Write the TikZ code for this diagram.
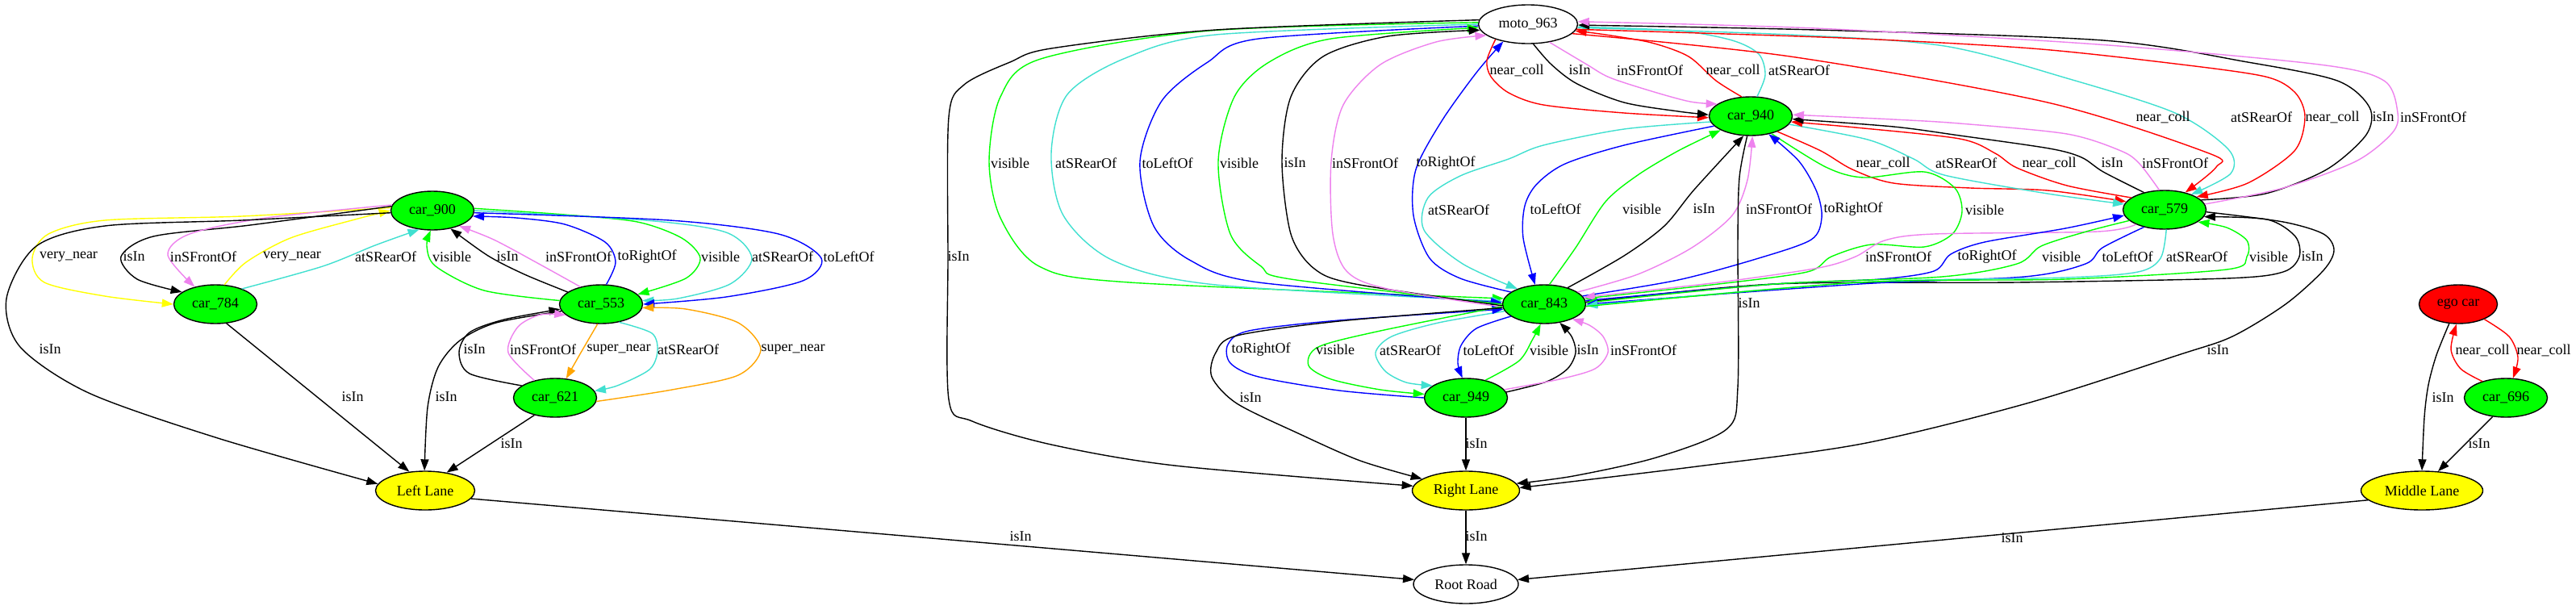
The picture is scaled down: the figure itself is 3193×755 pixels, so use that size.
\documentclass[tikz,border=0pt]{standalone}
\usepackage{fontspec}
\setmainfont{Liberation Serif}
\usetikzlibrary{shapes.geometric,arrows.meta}
\definecolor{gvgreen}{RGB}{0,255,0}
\definecolor{gvturq}{RGB}{64,224,208}
\definecolor{gvviolet}{RGB}{238,130,238}
\definecolor{gvorange}{RGB}{255,165,0}
\definecolor{gvyellow}{RGB}{255,255,0}
\definecolor{gvred}{RGB}{255,0,0}
\definecolor{gvblue}{RGB}{0,0,255}
\tikzset{
  gvnode/.style={ellipse, draw=black, line width=1.4pt, minimum height=48pt, inner sep=0pt},
  car/.style={gvnode, fill=gvgreen, minimum width=103pt},
  lane/.style={gvnode, fill=gvyellow},
  whitenode/.style={gvnode, fill=white},
  egocar/.style={gvnode, fill=gvred, minimum width=97pt},
  gvedge/.style={line width=1.4pt, -{Triangle[length=14pt,width=10pt]}},
  eb/.style={gvedge, draw=black},
  eg/.style={gvedge, draw=gvgreen},
  et/.style={gvedge, draw=gvturq},
  ev/.style={gvedge, draw=gvviolet},
  eo/.style={gvedge, draw=gvorange},
  ey/.style={gvedge, draw=gvyellow},
  er/.style={gvedge, draw=gvred},
  eu/.style={gvedge, draw=gvblue},
  lab/.style={inner sep=0pt}
}
\begin{document}
\begin{tikzpicture}[x=1pt,y=-1pt,font=\fontsize{18}{20}\selectfont]
\fill[white] (0,0) rectangle (3193,755);
\useasboundingbox (0,0) rectangle (3193,755);
% nodes
\node[car] (c900) at (536,261) {car\_900};
\node[car] (c784) at (267,377) {car\_784};
\node[car] (c553) at (745,377) {car\_553};
\node[car] (c621) at (688,493) {car\_621};
\node[lane, minimum width=123pt] (LL) at (527,608) {Left Lane};
\node[whitenode, minimum width=123pt] (moto) at (1894,30) {moto\_963};
\node[car] (c843) at (1914,377) {car\_843};
\node[car] (c940) at (2170,144) {car\_940};
\node[car] (c579) at (2683,260) {car\_579};
\node[car] (c949) at (1817,493) {car\_949};
\node[lane, minimum width=133pt] (RL) at (1817,608) {Right Lane};
\node[whitenode, minimum width=130pt] (RR) at (1817,724) {Root Road};
\node[egocar] (ego) at (3047,377) {ego car};
\node[car] (c696) at (3106,493) {car\_696};
\node[lane, minimum width=151pt] (ML) at (3002,608) {Middle Lane};

% ---------- left cluster ----------
\draw[ey] plot[smooth] coordinates {(c900.176) (300,268) (130,273) (60,290) (40,320) (55,350) (130,367) (c784.180)};
\draw[eb] plot[smooth] coordinates {(c900.174) (310,279) (190,293) (150,318) (170,346) (c784.160)};
\draw[ev] plot[smooth] coordinates {(c900.172) (330,270) (235,290) (208,316) (c784.140)};
\draw[ey] plot[smooth] coordinates {(c784.65) (305,325) (360,295) (440,272) (c900.180)};
\draw[et] plot[smooth] coordinates {(c784.30) (400,330) (465,304) (c900.235)};
\draw[eb] plot[smooth] coordinates {(c900.183) (300,273) (130,280) (45,305) (8,370) (25,430) (110,487) (270,543) (LL.172)};
\draw[eb] (c784.-60) -- (LL.130);
\draw[eg] plot[smooth] coordinates {(c553.175) (600,360) (540,330) (529,305) (c900.265)};
\draw[eb] plot[smooth] coordinates {(c553.160) (650,340) (605,317) (c900.-45)};
\draw[ev] plot[smooth] coordinates {(c553.140) (668,327) (612,297) (c900.-30)};
\draw[eu] plot[smooth] coordinates {(c553.75) (763,325) (750,300) (700,278) (640,270) (c900.-8)};
\draw[eg] plot[smooth] coordinates {(c900.3) (700,266) (790,275) (845,295) (868,320) (850,345) (c553.15)};
\draw[et] plot[smooth] coordinates {(c900.0) (800,273) (900,288) (932,320) (905,352) (840,370) (c553.5)};
\draw[eu] plot[smooth] coordinates {(c900.-3) (830,273) (965,290) (1018,320) (995,348) (900,368) (c553.0)};
\draw[eb] plot[smooth] coordinates {(c553.190) (615,400) (570,422) (543,455) (530,505) (LL.92)};
\draw[eb] plot[smooth] coordinates {(c621.160) (582,463) (569,437) (582,412) (625,396) (c553.187)};
\draw[ev] plot[smooth] coordinates {(c621.140) (630,437) (642,405) (670,390) (c553.197)};
\draw[eo] plot[smooth] coordinates {(c553.-100) (720,437) (c621.60)};
\draw[et] plot[smooth] coordinates {(c553.-45) (808,413) (815,435) (805,458) (765,478) (c621.10)};
\draw[eo] plot[smooth] coordinates {(c621.-5) (833,483) (915,465) (943,433) (915,400) (850,383) (c553.-5)};
\draw[eb] (c621.-140) -- (LL.40);
\draw[eb] (LL.-10) -- (RR.175);

% ---------- moto <-> car_843 fan ----------
\draw[eg] plot[smooth] coordinates {(moto.178) (1500,38) (1290,73) (1240,120) (1226,200) (1240,270) (1288,330) (1400,350) (c843.172)};
\draw[et] plot[smooth] coordinates {(moto.180) (1507,43) (1395,72) (1323,117) (1303,190) (1318,267) (1380,323) (1507,353) (c843.176)};
\draw[eu] plot[smooth] coordinates {(moto.182) (1560,48) (1497,77) (1440,125) (1413,200) (1430,280) (1476,323) (1560,350) (c843.178)};
\draw[eg] plot[smooth] coordinates {(c843.180) (1600,346) (1563,330) (1525,290) (1510,200) (1530,120) (1573,77) (1650,48) (moto.184)};
\draw[eb] plot[smooth] coordinates {(c843.182) (1680,352) (1629,333) (1600,290) (1589,200) (1600,120) (1640,70) (1720,45) (moto.187)};
\draw[ev] plot[smooth] coordinates {(c843.184) (1720,358) (1670,337) (1652,290) (1650,200) (1665,130) (1711,80) (1780,52) (moto.195)};
\draw[eu] plot[smooth] coordinates {(c843.160) (1810,345) (1772,320) (1752,267) (1755,210) (1787,150) (1830,90) (moto.215)};
\draw[eb] plot[smooth] coordinates {(moto.175) (1507,37) (1303,60) (1252,77) (1195,105) (1176,145) (1175,320) (1176,495) (1205,522) (1303,551) (1456,577) (RL.175)};

% ---------- moto <-> car_940 ----------
\draw[er] plot[smooth] coordinates {(moto.205) (1843,75) (1848,95) (1870,115) (1913,130) (2013,140) (c940.182)};
\draw[eb] plot[smooth] coordinates {(moto.-75) (1923,80) (1955,104) (2013,127) (2080,138) (c940.178)};
\draw[ev] plot[smooth] coordinates {(moto.-40) (1967,80) (1995,96) (2047,113) (2095,126) (c940.160)};
\draw[er] plot[smooth] coordinates {(c940.115) (2127,100) (2093,70) (2047,53) (1990,43) (moto.-8)};
\draw[et] plot[smooth] coordinates {(c940.72) (2188,93) (2180,67) (2147,50) (2080,38) (moto.-3)};

% ---------- moto <-> car_579 ----------
\draw[er] plot[smooth] coordinates {(moto.-12) (2219,70) (2538,127) (2738,190) (2747,207) (c579.40)};
\draw[et] plot[smooth] coordinates {(moto.-4) (2219,43) (2410,57) (2562,97) (2696,140) (2762,185) (2765,215) (c579.30)};
\draw[er] plot[smooth] coordinates {(moto.-6) (2283,47) (2518,60) (2696,79) (2808,95) (2845,115) (2857,145) (2844,187) (2786,227) (c579.22)};
\draw[eb] plot[smooth] coordinates {(c579.15) (2808,240) (2884,210) (2933,167) (2937,133) (2897,100) (2786,77) (2607,50) (2250,37) (moto.-1)};
\draw[ev] plot[smooth] coordinates {(c579.8) (2830,233) (2920,200) (2965,165) (2972,140) (2955,100) (2875,80) (2600,55) (2250,35) (moto.3)};

% ---------- car_940 <-> car_579 ----------
\draw[er] plot[smooth] coordinates {(c940.-30) (2257,187) (2296,210) (2347,227) (2442,233) (2538,236) (c579.168)};
\draw[et] plot[smooth] coordinates {(c940.-12) (2315,173) (2372,197) (2410,217) (2538,240) (c579.172)};
\draw[er] plot[smooth] coordinates {(c579.160) (2562,230) (2500,208) (2473,190) (2429,172) (2300,158) (c940.-8)};
\draw[eb] plot[smooth] coordinates {(c579.140) (2607,213) (2580,195) (2540,184) (2429,168) (2347,157) (c940.-4)};
\draw[ev] plot[smooth] coordinates {(c579.105) (2652,203) (2629,187) (2562,166) (2429,153) (2347,148) (c940.2)};

% ---------- car_940 <-> car_843 ----------
\draw[eg] plot[smooth] coordinates {(c940.-40) (2263,207) (2310,220) (2385,213) (2423,233) (2432,262) (2420,290) (2385,306) (2320,303) (2270,318) (2240,337) (2130,352) (c843.8)};
\draw[eu] plot[smooth] coordinates {(c940.195) (2013,180) (1940,203) (1905,228) (1890,255) (1888,295) (c843.115)};
\draw[eg] plot[smooth] coordinates {(c843.75) (1953,307) (1990,250) (2030,217) (2080,187) (c940.205)};
\draw[eb] plot[smooth] coordinates {(c843.35) (2013,317) (2063,280) (2100,235) (c940.-110)};
\draw[ev] plot[smooth] coordinates {(c843.20) (2030,340) (2097,307) (2147,267) (2166,223) (c940.-85)};
\draw[eu] plot[smooth] coordinates {(c843.12) (2080,347) (2180,320) (2245,297) (2258,270) (2252,238) (2230,200) (c940.-45)};
\draw[et] plot[smooth] coordinates {(c940.188) (2013,160) (1913,180) (1870,197) (1810,218) (1770,245) (1765,285) (1813,327) (c843.150)};
\draw[eb] plot[smooth] coordinates {(c940.-100) (2156,220) (2154,300) (2154,480) (2140,532) (2053,567) (1950,590) (RL.8)};
\draw[eb] plot[smooth] coordinates {(c579.-3) (2830,275) (2880,290) (2893,310) (2880,335) (2833,377) (2767,417) (2700,440) (2512,500) (2308,550) (2104,578) (RL.3)};

% ---------- car_843 <-> car_579 fan ----------
\draw[eb] plot[smooth] coordinates {(c843.3) (2200,352) (2500,350) (2760,345) (2830,337) (2850,318) (2845,293) (2810,272) (c579.-10)};
\draw[ev] plot[smooth] coordinates {(c579.207) (2600,287) (2397,290) (2336,298) (2300,318) (2254,332) (2130,350) (c843.10)};
\draw[eu] plot[smooth] coordinates {(c843.5) (2200,352) (2330,346) (2397,336) (2418,315) (2460,300) (2560,283) (c579.188)};
\draw[eg] plot[smooth] coordinates {(c579.197) (2586,287) (2530,305) (2500,327) (2407,343) (2200,352) (c843.2)};
\draw[eu] plot[smooth] coordinates {(c579.220) (2606,307) (2585,327) (2509,343) (2305,352) (c843.0)};
\draw[et] plot[smooth] coordinates {(c579.-85) (2678,320) (2650,337) (2560,344) (2305,350) (c843.-2)};
\draw[eg] plot[smooth] coordinates {(c843.-3) (2305,350) (2560,346) (2760,334) (2785,318) (2785,298) (2760,282) (c579.-20)};

% ---------- car_843 <-> car_949 ----------
\draw[et] plot[smooth] coordinates {(c843.190) (1783,400) (1725,417) (1705,437) (1717,460) (1743,474) (c949.160)};
\draw[eu] plot[smooth] coordinates {(c843.200) (1830,407) (1811,428) (1807,450) (c949.100)};
\draw[eg] plot[smooth] coordinates {(c949.42) (1883,447) (1900,420) (c843.-100)};
\draw[eb] plot[smooth] coordinates {(c949.8) (1917,473) (1943,457) (1953,437) (1948,417) (c843.-50)};
\draw[ev] plot[smooth] coordinates {(c949.12) (1933,470) (1977,457) (1993,437) (1987,417) (1970,403) (c843.-28)};
\draw[eu] plot[smooth] coordinates {(c949.180) (1660,484) (1560,467) (1525,450) (1522,427) (1548,410) (1660,397) (c843.187)};
\draw[eg] plot[smooth] coordinates {(c843.183) (1711,410) (1634,430) (1622,453) (1650,470) (1711,483) (c949.175)};
\draw[eb] plot[smooth] coordinates {(c843.185) (1660,398) (1533,416) (1507,437) (1502,467) (1533,500) (1609,537) (1686,571) (RL.165)};
\draw[eb] (c949.south) -- (RL.north);
\draw[eb] (RL.south) -- (RR.north);
\draw[eb] (ML.190) -- (RR.5);

% ---------- ego cluster ----------
\draw[eb] plot[smooth] coordinates {(ego.-115) (3020,440) (3010,477) (3005,517) (ML.90)};
\draw[er] plot[smooth] coordinates {(c696.145) (3050,457) (3038,433) (ego.-95)};
\draw[er] plot[smooth] coordinates {(ego.-30) (3110,417) (3121,443) (c696.70)};
\draw[eb] (c696.-125) -- (ML.50);

% ---------- labels ----------
\node[lab] (l1) at (85,318) {very\_near};
\node[lab] (l2) at (166,318) {isIn};
\node[lab] (l3) at (252,318) {inSFrontOf};
\node[lab] (l4) at (362,318) {very\_near};
\node[lab] (l5) at (478,318) {atSRearOf};
\node[lab] (l6) at (560,318) {visible};
\node[lab] (l7) at (629,318) {isIn};
\node[lab] (l8) at (717,318) {inSFrontOf};
\node[lab] (l9) at (802,318) {toRightOf};
\node[lab] (l10) at (893,318) {visible};
\node[lab] (l11) at (970,318) {atSRearOf};
\node[lab] (l12) at (1052,318) {toLeftOf};
\node[lab] (l13) at (62,433) {isIn};
\node[lab] (l14) at (437,492) {isIn};
\node[lab] (l15) at (553,492) {isIn};
\node[lab] (l16) at (588,433) {isIn};
\node[lab] (l17) at (673,433) {inSFrontOf};
\node[lab] (l18) at (767,433) {super\_near};
\node[lab] (l19) at (853,433) {atSRearOf};
\node[lab] (l20) at (983,433) {super\_near};
\node[lab] (l21) at (634,550) {isIn};
\node[lab] (l22) at (1265,665) {isIn};
\node[lab] (m1) at (1252,202) {visible};
\node[lab] (m2) at (1346,202) {atSRearOf};
\node[lab] (m3) at (1447,202) {toLeftOf};
\node[lab] (m4) at (1536,202) {visible};
\node[lab] (m5) at (1605,202) {isIn};
\node[lab] (m6) at (1692,202) {inSFrontOf};
\node[lab] (m7) at (1792,202) {toRightOf};
\node[lab] (m8) at (1188,318) {isIn};
\node[lab] (t1) at (1880,87) {near\_coll};
\node[lab] (t2) at (1958,87) {isIn};
\node[lab] (t3) at (2045,87) {inSFrontOf};
\node[lab] (t4) at (2148,87) {near\_coll};
\node[lab] (t5) at (2230,87) {atSRearOf};
\node[lab] (r1) at (2681,145) {near\_coll};
\node[lab] (r2) at (2803,145) {atSRearOf};
\node[lab] (r3) at (2891,145) {near\_coll};
\node[lab] (r4) at (2954,145) {isIn};
\node[lab] (r5) at (3016,145) {inSFrontOf};
\node[lab] (s1) at (2334,202) {near\_coll};
\node[lab] (s2) at (2437,202) {atSRearOf};
\node[lab] (s3) at (2540,202) {near\_coll};
\node[lab] (s4) at (2618,202) {isIn};
\node[lab] (s5) at (2696,202) {inSFrontOf};
\node[lab] (u1) at (1808,260) {atSRearOf};
\node[lab] (u2) at (1928,259) {toLeftOf};
\node[lab] (u3) at (2035,259) {visible};
\node[lab] (u4) at (2112,259) {isIn};
\node[lab] (u5) at (2205,259) {inSFrontOf};
\node[lab] (u6) at (2297,259) {toRightOf};
\node[lab] (u7) at (2460,260) {visible};
\node[lab] (f1) at (2353,318) {inSFrontOf};
\node[lab] (f2) at (2463,318) {toRightOf};
\node[lab] (f3) at (2555,318) {visible};
\node[lab] (f4) at (2637,318) {toLeftOf};
\node[lab] (f5) at (2723,318) {atSRearOf};
\node[lab] (f6) at (2812,318) {visible};
\node[lab] (f7) at (2866,318) {isIn};
\node[lab] (v1) at (2168,376) {isIn};
\node[lab] (v2) at (2749,434) {isIn};
\node[lab] (w1) at (1563,433) {toRightOf};
\node[lab] (w2) at (1655,433) {visible};
\node[lab] (w3) at (1748,434) {atSRearOf};
\node[lab] (w4) at (1845,434) {toLeftOf};
\node[lab] (w5) at (1920,434) {visible};
\node[lab] (w6) at (1968,434) {isIn};
\node[lab] (w7) at (2037,434) {inSFrontOf};
\node[lab] (w8) at (1550,493) {isIn};
\node[lab] (w9) at (1830,550) {isIn};
\node[lab] (w10) at (1830,665) {isIn};
\node[lab] (w11) at (2494,667) {isIn};
\node[lab] (e1) at (3028,493) {isIn};
\node[lab] (e2) at (3077,434) {near\_coll};
\node[lab] (e3) at (3153,434) {near\_coll};
\node[lab] (e4) at (3073,550) {isIn};
\end{tikzpicture}
\end{document}
